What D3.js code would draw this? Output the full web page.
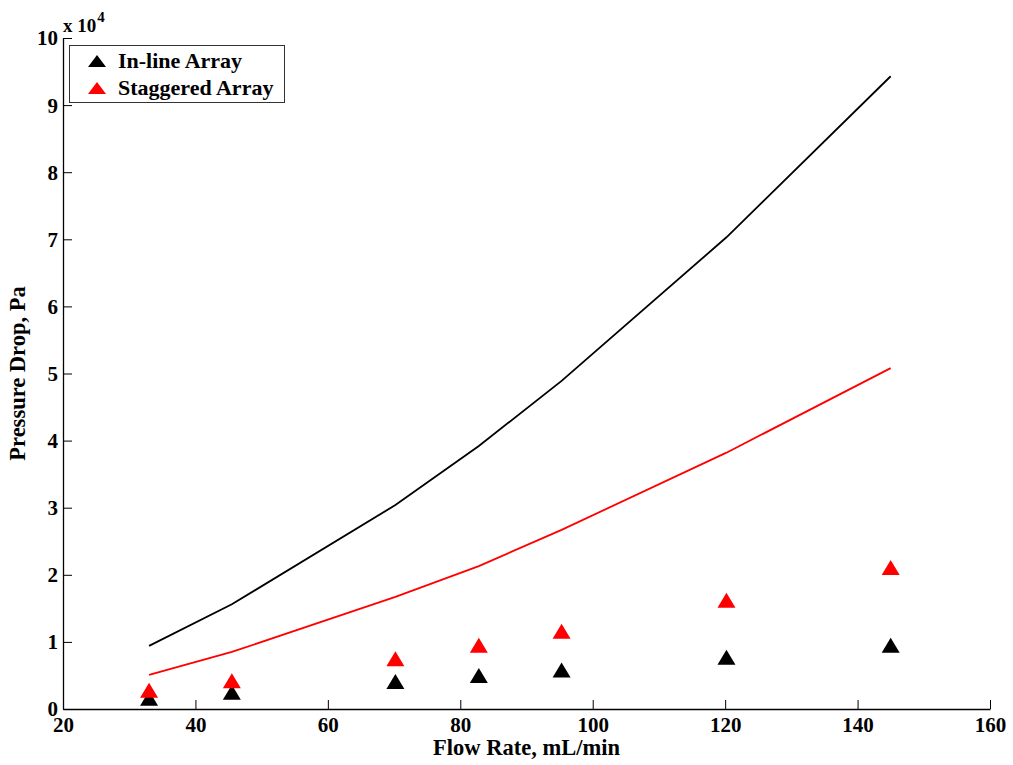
<!DOCTYPE html>
<html><head><meta charset="utf-8">
<script src="https://cdn.jsdelivr.net/npm/d3@7"></script>
<style>body{margin:0;background:#fff}svg{display:block}text{font-family:"Liberation Serif","Times New Roman",serif;font-weight:bold}</style>
</head><body>
<svg id="chart" width="1013" height="765"></svg>
<script>
const flowRate = [33, 45.5, 70.2, 82.8, 95.3, 120.2, 145];
const inlineModel = [0.94, 1.56, 3.04, 3.92, 4.89, 7.03, 9.43];
const staggeredModel = [0.51, 0.85, 1.67, 2.13, 2.67, 3.82, 5.08];
const inlineMeasured = [0.16, 0.25, 0.41, 0.50, 0.58, 0.77, 0.95];
const staggeredMeasured = [0.28, 0.42, 0.75, 0.95, 1.16, 1.62, 2.11];
const xTicks = [20, 40, 60, 80, 100, 120, 140, 160];
const yTicks = [0, 1, 2, 3, 4, 5, 6, 7, 8, 9, 10];
const legendLabels = ["In-line Array", "Staggered Array"];
const colors = ["#000000", "#ff0000"];

const svg = d3.select("#chart");
const L = 63, R = 990, T = 38, B = 709;
const x = d3.scaleLinear().domain([20, 160]).range([L, R]);
const y = d3.scaleLinear().domain([0, 10]).range([B, T]);
const FONT = '"Liberation Serif","Times New Roman",serif';

// axes
const xAxis = d3.axisBottom(x).tickValues(xTicks).tickSizeInner(-9).tickSizeOuter(0);
const gx = svg.append("g").attr("transform", `translate(0,${B})`).call(xAxis);
const yAxis = d3.axisLeft(y).tickValues(yTicks).tickSizeInner(-9).tickSizeOuter(0);
const gy = svg.append("g").attr("transform", `translate(${L},0)`).call(yAxis);
[gx, gy].forEach(g => {
  g.attr("font-family", FONT).attr("font-size", 21);
  g.select(".domain").attr("stroke", "#000").attr("stroke-width", 1.3);
  g.selectAll(".tick line").attr("stroke", "#000").attr("stroke-width", 1);
  g.selectAll(".tick text").attr("fill", "#000").style("font-size", "21px").style("font-family", FONT).style("font-weight", "bold");
});
gx.selectAll(".tick text").attr("y", 23).attr("dy", 0);
gy.selectAll(".tick text").attr("x", -5).attr("dy", "0.33em");

// exponent label
const ex = svg.append("text").attr("x", 63).attr("y", 32).style("font-size", "19px").attr("fill", "#000");
ex.append("tspan").text("x 10");
ex.append("tspan").attr("dx", 1).attr("dy", -10).style("font-size", "15px").text("4");

// axis labels
svg.append("text").attr("x", (L + R) / 2 + 0).attr("y", 755).attr("text-anchor", "middle")
  .style("font-size", "22.5px").attr("fill", "#000").text("Flow Rate, mL/min");
svg.append("text").attr("transform", `translate(25,${(T + B) / 2}) rotate(-90)`).attr("text-anchor", "middle")
  .style("font-size", "22.5px").attr("fill", "#000").text("Pressure Drop, Pa");

// model lines
const line = d3.line().x(d => x(d[0])).y(d => y(d[1]));
[inlineModel, staggeredModel].forEach((vals, i) => {
  svg.append("path").datum(flowRate.map((f, j) => [f, vals[j]]))
    .attr("d", line).attr("fill", "none").attr("stroke", colors[i]).attr("stroke-width", 1.8);
});

// markers: triangle with bbox centered on data point
function drawTri(g, cx, cy, color, w = 9, h = 7.5) {
  g.append("path").attr("d", `M${cx},${cy - h}L${cx + w},${cy + h}L${cx - w},${cy + h}Z`).attr("fill", color);
}
[inlineMeasured, staggeredMeasured].forEach((vals, i) => {
  const g = svg.append("g");
  flowRate.forEach((f, j) => drawTri(g, x(f), y(vals[j]), colors[i]));
});

// legend
const lg = svg.append("g");
lg.append("rect").attr("x", 69.5).attr("y", 45.5).attr("width", 215).attr("height", 57)
  .attr("fill", "#fff").attr("stroke", "#333").attr("stroke-width", 1);
legendLabels.forEach((lab, i) => {
  const cy = 61 + i * 27;
  drawTri(lg, 97, cy, colors[i], 9, 6);
  lg.append("text").attr("x", 118).attr("y", cy + 7).style("font-size", "22px").attr("fill", "#000").text(lab);
});
</script>
</body></html>
